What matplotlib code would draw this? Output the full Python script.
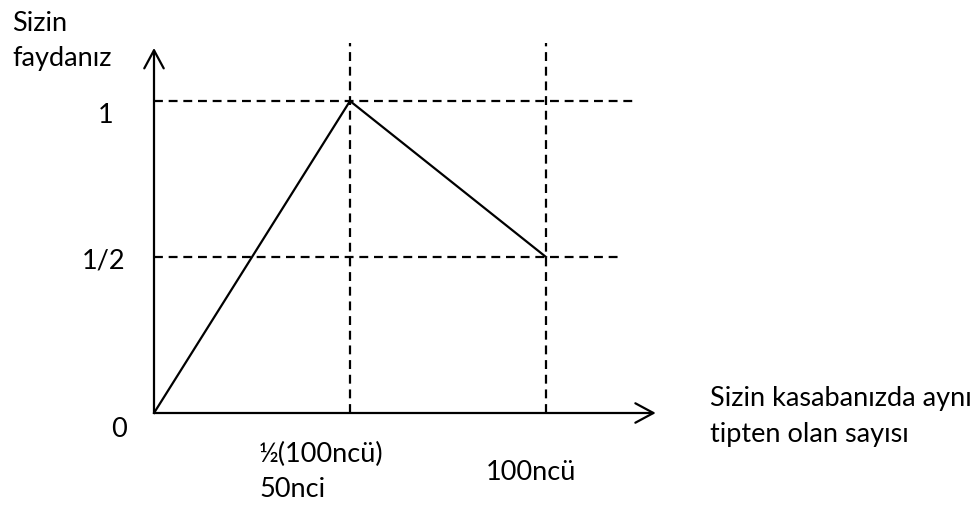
import matplotlib
matplotlib.use("Agg")
from matplotlib import pyplot as plt

# Utility curve: number of same-type shops in your town vs. your benefit
x_vals = [0, 50, 100]
y_vals = [0, 1, 0.5]

# guide lines (data positions)
guide_x = [50, 100]
guide_y = [1, 0.5]

y_tick_labels = ["0", "1/2", "1"]
y_label = ["Sizin", "faydanız"]
x_label = ["Sizin kasabanızda aynı", "tipten olan sayısı"]
x_mark_labels = ["½(100ncü)", "50nci", "100ncü"]

W, H = 979, 507
plt.rcParams['font.family'] = ['Lato', 'DejaVu Sans']

fig = plt.figure(figsize=(W / 100, H / 100), dpi=100)


def fx(px):
    return px / W


def fy(py):
    return 1 - py / H


# axes: x=0 at px 154, 100 units = 392 px; y=0 at px 413, 1 unit = 312 px
x0, y0 = 154, 413
xmax, ymax = 128, 1.17
ax = fig.add_axes([fx(x0), fy(y0), xmax * 3.92 / W, ymax * 312 / H])
ax.set_xlim(0, xmax)
ax.set_ylim(0, ymax)
ax.axis('off')

lw = 1.6
dash = (0, (4, 2.6))

# axes with open arrow heads
arrow = dict(arrowstyle="->,head_length=1.3,head_width=0.7", lw=lw,
             color='black', shrinkA=0, shrinkB=0)
ax.annotate("", xy=(xmax, 0), xytext=(0, 0), arrowprops=arrow, annotation_clip=False)
ax.annotate("", xy=(0, ymax), xytext=(0, 0), arrowprops=arrow, annotation_clip=False)

# dashed guide lines
for gx in guide_x:
    ax.plot([gx, gx], [0, 1.186], color='black', lw=lw, linestyle=dash, clip_on=False)
ax.plot([0, 123.2], [guide_y[0]] * 2, color='black', lw=lw, linestyle=dash, clip_on=False)
ax.plot([0, 119.6], [guide_y[1]] * 2, color='black', lw=lw, linestyle=dash, clip_on=False)

# the curve
ax.plot(x_vals, y_vals, color='black', lw=lw, solid_joinstyle='miter', clip_on=False)

fs = 19.5
# y value labels
fig.text(fx(127), fy(437), y_tick_labels[0], fontsize=fs, ha='right', va='baseline')
fig.text(fx(125), fy(269), y_tick_labels[1], fontsize=fs, ha='right', va='baseline')
fig.text(fx(113), fy(123), y_tick_labels[2], fontsize=fs, ha='right', va='baseline')

# y axis title
fig.text(fx(12), fy(31), y_label[0], fontsize=fs, ha='left', va='baseline')
fig.text(fx(12), fy(66), y_label[1], fontsize=fs, ha='left', va='baseline')

# x marks
fig.text(fx(259), fy(462), x_mark_labels[0], fontsize=fs, ha='left', va='baseline')
fig.text(fx(259), fy(497), x_mark_labels[1], fontsize=fs, ha='left', va='baseline')
fig.text(fx(486), fy(480), x_mark_labels[2], fontsize=fs, ha='left', va='baseline')

# x axis title
fig.text(fx(710), fy(406), x_label[0], fontsize=fs, ha='left', va='baseline')
fig.text(fx(710), fy(442), x_label[1], fontsize=fs, ha='left', va='baseline')

fig.savefig("out.png", dpi=100)
